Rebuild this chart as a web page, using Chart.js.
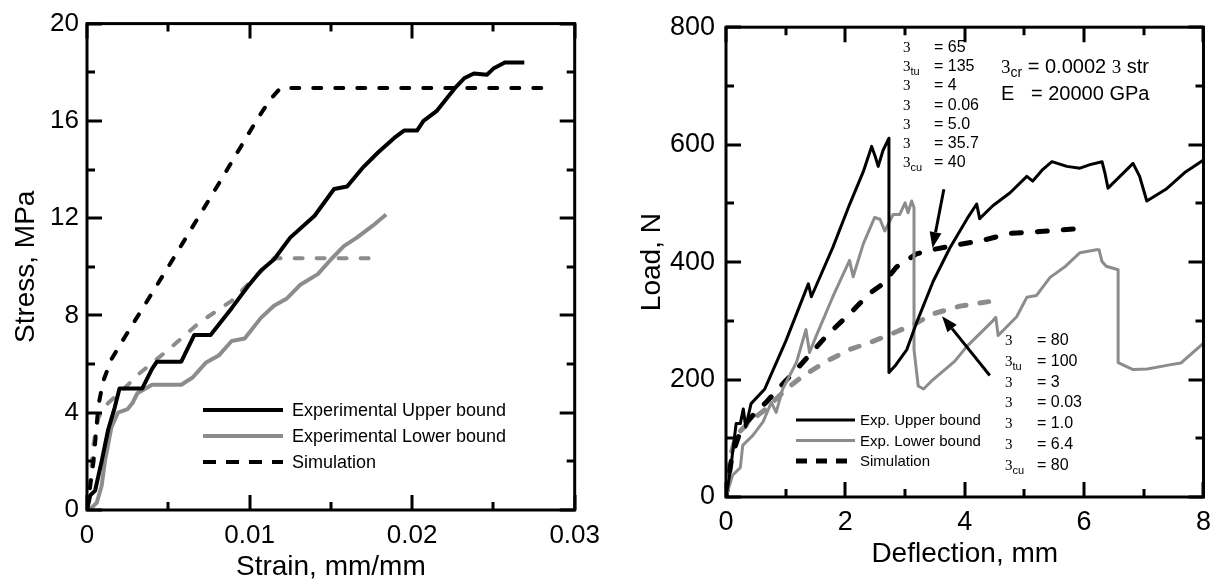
<!DOCTYPE html>
<html>
<head>
<meta charset="utf-8">
<script src="https://cdn.jsdelivr.net/npm/chart.js@4.4.1/dist/chart.umd.min.js"></script>
<style>
  body { margin: 0; background: #fff; }
  #wrap { position: relative; width: 1220px; height: 584px; overflow: hidden; }
  canvas { position: absolute; top: 0; }
  .note { position: absolute; white-space: nowrap; font-family: 'Liberation Sans', Arial, sans-serif; color: #000; }
  .sym { font-family: 'Liberation Serif', 'Times New Roman', serif; }
  .sub { font-size: 11px; position: relative; top: 4px; }
</style>
</head>
<body>
<div id="wrap">
  <canvas id="left" width="610" height="584" style="left:0"></canvas>
  <canvas id="right" width="610" height="584" style="left:610px"></canvas>
</div>
<script>
// ---- left panel: stress vs strain ----
const strainTicks = [0, 0.01, 0.02, 0.03]
const strainMinor = [0.005, 0.015, 0.025]
const stressTicks = [0, 4, 8, 12, 16, 20]
const stressMinor = [2, 6, 10, 14, 18]

const upperStrain = [0, 0.0002, 0.0005, 0.0009, 0.0013, 0.0017, 0.002, 0.0034, 0.004, 0.0043, 0.0058, 0.0066, 0.0076, 0.0089, 0.0099, 0.0107, 0.0115, 0.0125, 0.014, 0.0152, 0.016, 0.017, 0.0179, 0.0189, 0.0195, 0.0203, 0.0207, 0.0215, 0.0221, 0.0227, 0.0232, 0.0238, 0.0246, 0.025, 0.0257, 0.0269]
const upperStress = [0, 0.6, 0.8, 2.0, 3.3, 4.2, 5.0, 5.0, 5.8, 6.1, 6.1, 7.2, 7.2, 8.3, 9.2, 9.85, 10.3, 11.2, 12.1, 13.2, 13.3, 14.1, 14.7, 15.3, 15.6, 15.6, 16.0, 16.4, 16.9, 17.4, 17.75, 17.95, 17.9, 18.15, 18.4, 18.4]

const lowerStrain = [0, 0.0003, 0.0006, 0.0009, 0.0011, 0.0015, 0.0019, 0.0025, 0.0028, 0.0031, 0.004, 0.0058, 0.0065, 0.0073, 0.0081, 0.0089, 0.0097, 0.0107, 0.0115, 0.0123, 0.0131, 0.0142, 0.015, 0.0158, 0.0166, 0.0176, 0.0184]
const lowerStress = [0, 0.1, 0.3, 1.0, 2.0, 3.4, 4.0, 4.15, 4.4, 4.8, 5.15, 5.15, 5.45, 6.05, 6.35, 6.95, 7.05, 7.9, 8.4, 8.7, 9.25, 9.7, 10.3, 10.85, 11.2, 11.7, 12.15]

const simStrain = [0, 0.0004, 0.0007, 0.001, 0.0015, 0.0025, 0.005, 0.008, 0.0105, 0.0113, 0.0119, 0.028]
const simStress = [0, 2.0, 4.3, 5.3, 6.2, 7.3, 10.0, 13.3, 16.1, 16.9, 17.35, 17.35]

const simLowStrain = [0, 0.0002, 0.0004, 0.0007, 0.0013, 0.0023, 0.0032, 0.0052, 0.0069, 0.0089, 0.0103, 0.0115, 0.018]
const simLowStress = [0, 1.2, 2.7, 3.8, 4.4, 5.0, 5.6, 6.7, 7.7, 8.6, 9.55, 10.35, 10.35]

// ---- right panel: load vs deflection ----
const deflTicks = [0, 2, 4, 6, 8]
const deflMinor = [1, 3, 5, 7]
const loadTicks = [0, 200, 400, 600, 800]
const loadMinor = [100, 300, 500, 700]

const upDefl = [0, 0.08, 0.14, 0.17, 0.24, 0.29, 0.33, 0.42, 0.65, 1.0, 1.38, 1.43, 1.79, 2.07, 2.3, 2.44, 2.5, 2.55, 2.63, 2.73, 2.73, 2.83, 3.03, 3.19, 3.47, 3.75, 4.04, 4.2, 4.25, 4.47, 4.76, 5.04, 5.14, 5.31, 5.46, 5.71, 5.93, 6.1, 6.3, 6.35, 6.4, 6.6, 6.82, 6.93, 7.05, 7.37, 7.68, 8.0]
const upLoad = [0, 50, 100, 125, 125, 150, 119, 159, 184, 265, 363, 341, 425, 498, 554, 597, 580, 563, 590, 611, 212, 223, 251, 296, 367, 424, 474, 499, 474, 496, 518, 546, 538, 558, 571, 563, 560, 566, 571, 551, 526, 546, 568, 546, 504, 524, 552, 574]

const loDefl = [0, 0.11, 0.24, 0.28, 0.45, 0.62, 0.76, 0.84, 0.95, 1.18, 1.34, 1.4, 1.51, 1.79, 2.07, 2.13, 2.3, 2.49, 2.58, 2.66, 2.8, 2.91, 3.0, 3.05, 3.11, 3.15, 3.15, 3.22, 3.31, 3.47, 3.83, 4.04, 4.47, 4.52, 4.56, 4.87, 5.04, 5.2, 5.43, 5.69, 5.93, 6.21, 6.25, 6.3, 6.37, 6.57, 6.57, 6.82, 7.06, 7.43, 7.62, 8.0]
const loLoad = [0, 37, 50, 88, 105, 128, 161, 144, 184, 229, 285, 246, 274, 341, 403, 375, 431, 476, 473, 453, 481, 481, 501, 484, 504, 493, 251, 189, 184, 200, 231, 257, 300, 306, 275, 307, 340, 343, 374, 393, 416, 421, 421, 401, 393, 387, 229, 217, 218, 225, 228, 262]

const simDefl = [0, 0.1, 0.25, 0.5, 0.67, 1.0, 1.18, 1.68, 2.13, 2.41, 2.63, 2.86, 3.19, 3.5, 3.86, 4.3, 4.76, 5.26, 6.05]
const simLoad = [0, 70, 115, 145, 161, 198, 217, 274, 318, 347, 363, 392, 414, 422, 429, 437, 449, 452, 458]

const simLoDefl = [0, 0.05, 0.17, 0.39, 0.67, 1.01, 1.29, 1.68, 2.07, 2.46, 2.8, 3.19, 3.47, 3.92, 4.55]
const simLoLoad = [0, 60, 105, 128, 150, 184, 206, 231, 251, 265, 279, 296, 312, 325, 335]

// arrows: [deflection, load] tail -> head
const arrowTails = [[3.65, 524], [4.42, 207]]
const arrowHeads = [[3.46, 424], [3.62, 308]]

// parameter notes (symbol subscript, value)
const upperParams = [['', '65'], ['tu', '135'], ['', '4'], ['', '0.06'], ['', '5.0'], ['', '35.7'], ['cu', '40']]
const lowerParams = [['', '80'], ['tu', '100'], ['', '3'], ['', '0.03'], ['', '1.0'], ['', '6.4'], ['cu', '80']]

const FONT = "'Liberation Sans', Arial, sans-serif"
const GRAY = '#8c8c8c'
Chart.defaults.color = '#000'
Chart.defaults.font.family = FONT

const pts = (xs, ys) => xs.map((x, i) => ({ x, y: ys[i] }))

const framePlugin = {
  id: 'frame',
  afterDatasetsDraw(chart, args, o) {
    const { ctx, chartArea: a } = chart
    const sx = chart.scales.x, sy = chart.scales.y
    ctx.save()
    ctx.strokeStyle = '#000'
    ctx.lineWidth = 3
    ctx.beginPath()
    const xMark = (vals, len) => vals.forEach(v => {
      const p = Math.round(sx.getPixelForValue(v))
      ctx.moveTo(p, a.bottom); ctx.lineTo(p, a.bottom - len)
      ctx.moveTo(p, a.top); ctx.lineTo(p, a.top + len)
    })
    const yMark = (vals, len) => vals.forEach(v => {
      const p = Math.round(sy.getPixelForValue(v))
      ctx.moveTo(a.left, p); ctx.lineTo(a.left + len, p)
      ctx.moveTo(a.right, p); ctx.lineTo(a.right - len, p)
    })
    xMark(o.xMajor, 15); xMark(o.xMinor, 8)
    yMark(o.yMajor, 15); yMark(o.yMinor, 8)
    ctx.stroke()
    ctx.strokeRect(a.left, a.top, a.right - a.left, a.bottom - a.top)
    ctx.restore()
  }
}

const keyPlugin = {
  id: 'key',
  afterDatasetsDraw(chart, args, o) {
    const ctx = chart.ctx
    ctx.save()
    ctx.font = o.font
    ctx.textBaseline = 'middle'
    o.items.forEach((idx, i) => {
      const ds = chart.data.datasets[idx]
      const y = o.y + i * o.dy
      ctx.strokeStyle = ds.borderColor
      ctx.lineWidth = ds.borderWidth
      ctx.setLineDash(ds.borderDash ? o.dash : [])
      ctx.lineCap = 'butt'
      ctx.beginPath(); ctx.moveTo(o.x, y); ctx.lineTo(o.x + o.len, y); ctx.stroke()
      ctx.setLineDash([])
      ctx.fillStyle = '#000'
      ctx.fillText(ds.label, o.x + o.len + o.gap, y + 1)
    })
    ctx.restore()
  }
}

const arrowPlugin = {
  id: 'arrows',
  afterDatasetsDraw(chart, args, o) {
    if (!o.tails) return
    const { ctx } = chart
    const sx = chart.scales.x, sy = chart.scales.y
    ctx.save()
    ctx.strokeStyle = '#000'; ctx.fillStyle = '#000'; ctx.lineWidth = 3
    o.tails.forEach((t, i) => {
      const x0 = sx.getPixelForValue(t[0]), y0 = sy.getPixelForValue(t[1])
      const x1 = sx.getPixelForValue(o.heads[i][0]), y1 = sy.getPixelForValue(o.heads[i][1])
      const ang = Math.atan2(y1 - y0, x1 - x0)
      const hl = 16, hw = 6
      const bx = x1 - hl * Math.cos(ang), by = y1 - hl * Math.sin(ang)
      ctx.beginPath(); ctx.moveTo(x0, y0); ctx.lineTo(bx, by); ctx.stroke()
      ctx.beginPath()
      ctx.moveTo(x1, y1)
      ctx.lineTo(bx + hw * Math.sin(ang), by - hw * Math.cos(ang))
      ctx.lineTo(bx - hw * Math.sin(ang), by + hw * Math.cos(ang))
      ctx.closePath(); ctx.fill()
    })
    ctx.restore()
  }
}

function line(label, data, color, width, dash) {
  return {
    label, data, borderColor: color, borderWidth: width, borderDash: dash,
    borderCapStyle: dash ? 'round' : 'butt', borderJoinStyle: 'round',
    showLine: true, pointRadius: 0, tension: 0, fill: false
  }
}

function axis(min, max, ticks, fontSize, pad, fit, title, titlePad) {
  return {
    type: 'linear', min, max,
    afterBuildTicks: s => { s.ticks = ticks.map(v => ({ value: v })) },
    afterFit: fit,
    ticks: {
      font: { size: fontSize }, padding: pad, maxRotation: 0, autoSkip: false,
      callback: v => String(v)
    },
    grid: { display: false, drawTicks: false },
    border: { display: false },
    title: { display: true, text: title, font: { size: 28 }, padding: titlePad }
  }
}

new Chart(document.getElementById('left'), {
  type: 'scatter',
  data: {
    datasets: [
      line('Experimental Upper bound', pts(upperStrain, upperStress), '#000', 4),
      line('Experimental Lower bound', pts(lowerStrain, lowerStress), GRAY, 4),
      line('Simulation', pts(simStrain, simStress), '#000', 4, [8, 14]),
      line('', pts(simLowStrain, simLowStress), GRAY, 4, [8, 14])
    ]
  },
  options: {
    responsive: false, animation: false,
    layout: { padding: { top: 20, right: 31, left: 0, bottom: 0 } },
    plugins: {
      legend: { display: false }, tooltip: { enabled: false },
      frame: { xMajor: strainTicks, xMinor: strainMinor, yMajor: stressTicks, yMinor: stressMinor },
      key: { x: 203, y: 410, dy: 26, len: 80, gap: 9, font: '18px ' + FONT, items: [0, 1, 2], dash: [13, 10] }
    },
    scales: {
      x: axis(0, 0.03, strainTicks, 26, 10, s => { s.height = 74 }, 'Strain, mm/mm', { top: 0, bottom: 0 }),
      y: axis(0, 20, stressTicks, 26, 8, s => { s.width = 87 }, 'Stress, MPa', { top: 9, bottom: 0 })
    }
  },
  plugins: [framePlugin, keyPlugin]
})

new Chart(document.getElementById('right'), {
  type: 'scatter',
  data: {
    datasets: [
      line('Exp. Upper bound', pts(upDefl, upLoad), '#000', 3),
      line('Exp. Lower bound', pts(loDefl, loLoad), GRAY, 3),
      line('Simulation', pts(simDefl, simLoad), '#000', 5, [10, 16]),
      line('', pts(simLoDefl, simLoLoad), GRAY, 5, [9, 14])
    ]
  },
  options: {
    responsive: false, animation: false,
    layout: { padding: { top: 19, right: 16, left: 0, bottom: 0 } },
    plugins: {
      legend: { display: false }, tooltip: { enabled: false },
      frame: { xMajor: deflTicks, xMinor: deflMinor, yMajor: loadTicks, yMinor: loadMinor },
      key: { x: 186, y: 420, dy: 20.5, len: 59, gap: 5, font: '15px ' + FONT, items: [0, 1, 2], dash: [11, 9] },
      arrows: { tails: arrowTails, heads: arrowHeads }
    },
    scales: {
      x: axis(0, 8, deflTicks, 27, 9, s => { s.height = 87 }, 'Deflection, mm', { top: 0, bottom: 13 }),
      y: axis(0, 800, loadTicks, 27, 11, s => { s.width = 116 }, 'Load, N', { top: 25, bottom: 0 })
    }
  },
  plugins: [framePlugin, keyPlugin, arrowPlugin]
})

// parameter text blocks on the right panel
const wrap = document.getElementById('wrap')
function note(html, left, top, size) {
  const d = document.createElement('div')
  d.className = 'note'
  d.style.left = left + 'px'
  d.style.top = top + 'px'
  d.style.fontSize = size + 'px'
  d.style.lineHeight = '18px'
  d.innerHTML = html
  wrap.appendChild(d)
}
function paramBlock(rows, symX, eqX, firstY, dy) {
  rows.forEach((r, i) => {
    const y = firstY + i * dy - 9
    note('<span class="sym" style="font-size:15px">3</span>' + (r[0] ? '<span class="sub">' + r[0] + '</span>' : ''), symX, y, 15)
    note('= ' + r[1], eqX, y, 16)
  })
}
paramBlock(upperParams, 903, 934, 47, 19.2)
paramBlock(lowerParams, 1005, 1037, 340, 20.8)

note('<span class="sym" style="font-size:19px">3</span><span class="sub" style="font-size:14px">cr</span> = 0.0002 <span class="sym" style="font-size:19px">3</span> str', 1001, 57, 20)
note('E &nbsp;&nbsp;= 20000 GPa', 1001, 84, 20)
</script>
</body>
</html>
